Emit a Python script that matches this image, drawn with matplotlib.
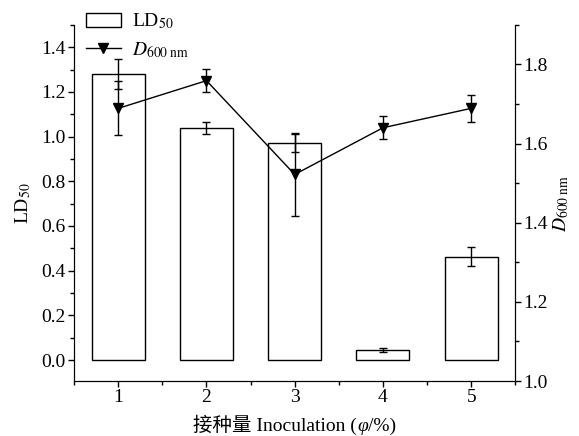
import numpy as np
import matplotlib
matplotlib.use("Agg")
import matplotlib.pyplot as plt
from matplotlib.ticker import MultipleLocator
from matplotlib.lines import Line2D
from matplotlib.offsetbox import TextArea, HPacker, AnchoredOffsetbox

plt.rcParams['font.family'] = ['Liberation Serif', 'Noto Sans CJK SC', 'DejaVu Serif']
plt.rcParams['mathtext.fontset'] = 'stix'
plt.rcParams['font.size'] = 14

inoculation = [1, 2, 3, 4, 5]
ld50 = [1.28, 1.04, 0.97, 0.045, 0.462]
ld50_err = [0.065, 0.027, 0.04, 0.011, 0.043]
d600 = [1.689, 1.759, 1.522, 1.640, 1.689]
d600_err = [0.068, 0.029, 0.104, 0.029, 0.034]

fig = plt.figure(figsize=(5.79, 4.36), dpi=100)
ax1 = fig.add_axes([0.128, 0.126, 0.762, 0.817])
ax2 = ax1.twinx()

bars = ax1.bar(inoculation, ld50, width=0.6, color='white', edgecolor='black',
               linewidth=1.0, zorder=2)
ax1.errorbar(inoculation, ld50, yerr=ld50_err, fmt='none', ecolor='black',
             elinewidth=1.0, capsize=3, capthick=1.0, zorder=3)

ax2.errorbar(inoculation, d600, yerr=d600_err, color='black', marker='v',
             markersize=7, linewidth=1.0, elinewidth=1.0, capsize=3,
             capthick=1.0)

ax1.set_xlim(0.5, 5.5)
ax1.set_ylim(-0.094, 1.5)
ax2.set_ylim(1.0, 1.9)

ax1.set_xticks(inoculation)
ax1.xaxis.set_minor_locator(MultipleLocator(0.5))
ax1.set_yticks(np.arange(0, 1.41, 0.2))
ax1.yaxis.set_minor_locator(MultipleLocator(0.1))
ax1.set_yticklabels([f"{v:.1f}" for v in np.arange(0, 1.41, 0.2)])
ax2.set_yticks([1.0, 1.2, 1.4, 1.6, 1.8])
ax2.yaxis.set_minor_locator(MultipleLocator(0.1))

for a in (ax1, ax2):
    a.spines['top'].set_visible(False)
    a.tick_params(which='major', direction='out', length=4, width=1, pad=2)
    a.tick_params(which='minor', direction='out', length=3, width=1)
    a.tick_params(axis='x', which='both', top=False)

# x label with italic phi
fam = ['Liberation Serif', 'Noto Sans CJK SC']
parts = [TextArea('接种量 Inoculation (', textprops=dict(family=fam, size=14)),
         TextArea('φ', textprops=dict(family=fam, size=14, style='italic')),
         TextArea('/%)', textprops=dict(family=fam, size=14))]
box = HPacker(children=parts, align='baseline', pad=0, sep=0)
anch = AnchoredOffsetbox(loc='upper center', child=box, pad=0, frameon=False,
                         bbox_to_anchor=(0.5, -0.095), bbox_transform=ax1.transAxes,
                         borderpad=0)
ax1.add_artist(anch)

ax1.set_ylabel('LD$_{50}$', labelpad=6)
ax2.set_ylabel('$D_{600\\ \\mathrm{nm}}$', labelpad=2)

line_handle = Line2D([], [], color='black', marker='v', markersize=7, linewidth=1.0)
ax1.legend([bars, line_handle], ['LD$_{50}$', '$D_{600\\ \\mathrm{nm}}$'],
           loc='upper left', bbox_to_anchor=(0.0, 1.07), frameon=False,
           handlelength=1.8, handleheight=0.7, handletextpad=0.6,
           labelspacing=0.45, borderaxespad=0.2)

fig.savefig("out.png", dpi=100)
